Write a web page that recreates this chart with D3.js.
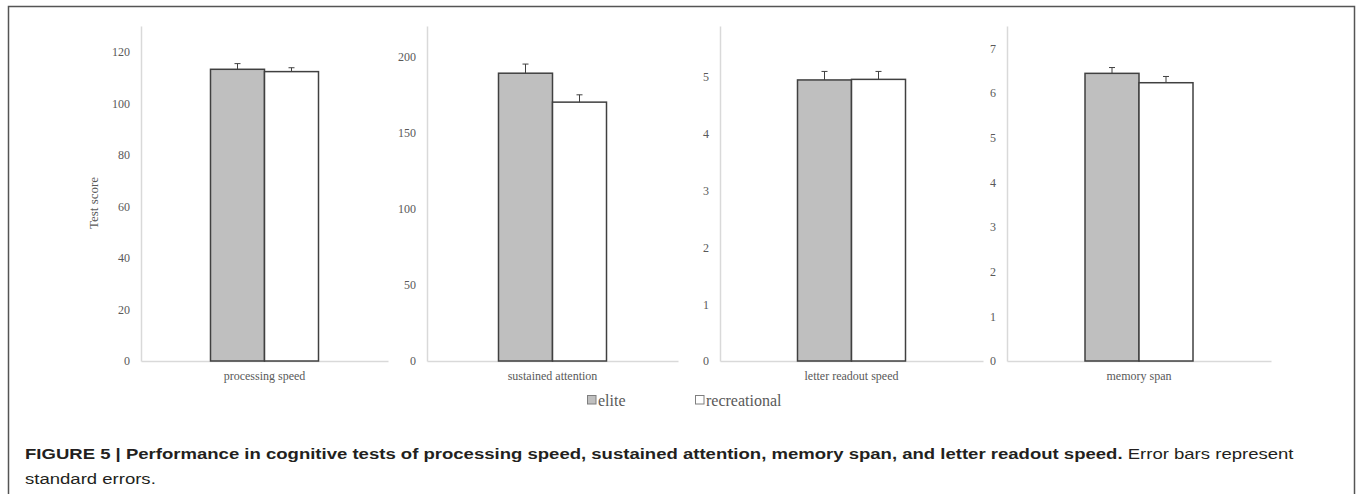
<!DOCTYPE html>
<html>
<head>
<meta charset="utf-8">
<script src="https://cdn.jsdelivr.net/npm/d3@7"></script>
<style>
  html, body { margin: 0; padding: 0; background: #fff; }
  svg { display: block; }
</style>
</head>
<body>
<div id="chart"></div>
<script>
// values
const categories = ["processing speed", "sustained attention", "letter readout speed", "memory span"];
const groups = ["elite", "recreational"];
const eliteMeans = [113.2, 189, 4.95, 6.44];
const eliteErrors = [2.2, 6, 0.15, 0.13];
const recreationalMeans = [112.3, 170, 4.96, 6.23];
const recreationalErrors = [1.5, 4.8, 0.14, 0.14];
const axisMax = [130, 220, 5.9, 7.5];
const tickValues = [
    [0, 20, 40, 60, 80, 100, 120],
    [0, 50, 100, 150, 200],
    [0, 1, 2, 3, 4, 5],
    [0, 1, 2, 3, 4, 5, 6, 7]
];
const captionBold = "FIGURE 5 | Performance in cognitive tests of processing speed, sustained attention, memory span, and letter readout speed.";
const captionRest = " Error bars represent";
const captionLine2 = "standard errors.";

const W = 1358, H = 494;
const plotTop = 26, baseline = 361;
// left edge and width of every small panel
const panels = [
    { x: 141, w: 247 },
    { x: 427, w: 251 },
    { x: 720, w: 263 },
    { x: 1007, w: 264 }
];
const barWidth = 54;
const serif = "'Liberation Serif', 'Times New Roman', serif";

const color = d3.scaleOrdinal()
    .domain(groups)
    .range(["#bfbfbf", "#ffffff"]);

const svg = d3.select("#chart").append("svg")
    .attr("width", W)
    .attr("height", H);

//outer frame
svg.append("rect")
    .attr("x", 8.5)
    .attr("y", 6.5)
    .attr("width", 1346)
    .attr("height", 520)
    .attr("fill", "none")
    .attr("stroke", "#555")
    .attr("stroke-width", 1.5);

categories.forEach((cat, i) => {
    const p = panels[i];
    const g = svg.append("g").attr("transform", `translate(${p.x},0)`);

    const y = d3.scaleLinear()
        .domain([0, axisMax[i]])
        .range([baseline, plotTop]);

    const x = d3.scaleBand()
        .domain([cat])
        .range([0, p.w]);

    const cx = x(cat) + x.bandwidth() / 2;
    const xs = d3.scaleBand()
        .domain(groups)
        .range([cx - barWidth, cx + barWidth]);

    //y axis
    const yAxis = g.append("g")
        .attr("color", "#595959")
        .call(d3.axisLeft(y)
            .tickValues(tickValues[i])
            .tickFormat(d3.format("d"))
            .tickSize(0).tickSizeOuter(0).tickPadding(11));
    yAxis.select(".domain").attr("stroke", "#d9d9d9").attr("stroke-width", 1.5);
    yAxis.selectAll("text")
        .style("font-family", serif)
        .style("font-size", "12px");

    //x axis (baseline + category)
    const xAxis = g.append("g")
        .attr("color", "#595959")
        .attr("transform", `translate(0,${baseline})`)
        .call(d3.axisBottom(x).tickSize(0).tickSizeOuter(0).tickPadding(10));
    xAxis.select(".domain").attr("stroke", "#d9d9d9").attr("stroke-width", 1.5);
    xAxis.selectAll("text")
        .style("font-family", serif)
        .style("font-size", "12px");

    const rows = [
        { group: "elite", mean: eliteMeans[i], err: eliteErrors[i] },
        { group: "recreational", mean: recreationalMeans[i], err: recreationalErrors[i] }
    ];

    //bars
    g.selectAll("rect.bar")
        .data(rows)
        .join("rect")
        .attr("class", "bar")
        .attr("x", d => xs(d.group))
        .attr("y", d => y(d.mean))
        .attr("width", xs.bandwidth())
        .attr("height", d => baseline - y(d.mean))
        .attr("fill", d => color(d.group))
        .attr("stroke", "#404040")
        .attr("stroke-width", 1.5);

    //error bars (only the upper half shows)
    const eb = g.selectAll("g.err")
        .data(rows)
        .join("g")
        .attr("class", "err")
        .attr("stroke", "#404040")
        .attr("stroke-width", 1);
    eb.append("line")
        .attr("x1", d => xs(d.group) + xs.bandwidth() / 2)
        .attr("x2", d => xs(d.group) + xs.bandwidth() / 2)
        .attr("y1", d => y(d.mean))
        .attr("y2", d => y(d.mean + d.err));
    eb.append("line")
        .attr("x1", d => xs(d.group) + xs.bandwidth() / 2 - 3)
        .attr("x2", d => xs(d.group) + xs.bandwidth() / 2 + 3)
        .attr("y1", d => y(d.mean + d.err))
        .attr("y2", d => y(d.mean + d.err));
});

//y axis label
svg.append("text")
    .attr("transform", "rotate(-90)")
    .attr("x", -203)
    .attr("y", 98)
    .attr("text-anchor", "middle")
    .attr("fill", "#595959")
    .style("font-family", serif)
    .style("font-size", "13px")
    .text("Test score");

//legend
const legendX = d3.scaleOrdinal().domain(groups).range([587, 695]);
const legend = svg.append("g")
    .selectAll("g")
    .data(groups)
    .join("g")
    .attr("transform", d => `translate(${legendX(d)},400)`);
legend.append("rect")
    .attr("x", 0.5)
    .attr("y", -4.5)
    .attr("width", 8.5)
    .attr("height", 8.5)
    .attr("fill", d => color(d))
    .attr("stroke", "#7f7f7f")
    .attr("stroke-width", 1);
legend.append("text")
    .attr("x", 11)
    .attr("y", 5.7)
    .attr("fill", "#595959")
    .style("font-family", serif)
    .style("font-size", "16px")
    .text(d => d);

//caption
const cap = svg.append("g")
    .style("font-family", "'Liberation Sans', Arial, sans-serif")
    .style("font-size", "15.5px")
    .attr("fill", "#231f20");
const line1 = cap.append("text").attr("x", 0).attr("y", 0);
line1.append("tspan").attr("font-weight", "bold").text(captionBold);
line1.append("tspan").text(captionRest);
cap.append("text").attr("x", 0).attr("y", 26).text(captionLine2);

//condense the caption so it spans the same width as in the figure
const targetWidth = 1269;
const sx = targetWidth / line1.node().getComputedTextLength();
cap.attr("transform", `translate(25,458.5) scale(${sx},1)`);
</script>
</body>
</html>
